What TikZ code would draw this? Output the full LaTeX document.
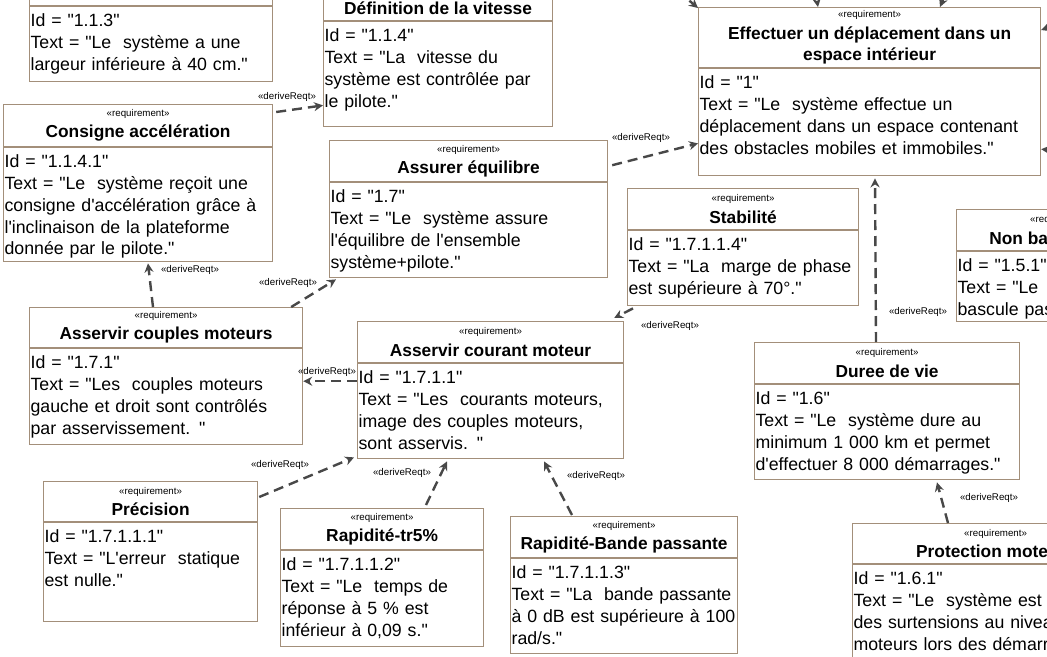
\documentclass[tikz,border=0pt]{standalone}
\usepackage{fontspec}
\setmainfont{Liberation Sans}[Ligatures=TeXOff]
\usepackage{xcolor}
\usepackage{tikz}
\usetikzlibrary{positioning, arrows.meta, calc}
\newdimen\px \px=0.75pt
\definecolor{reqline}{RGB}{163,143,122}
\definecolor{deriveline}{RGB}{72,72,72}
\newcommand\stereo{{\fontsize{7.3}{9}\selectfont\mdseries «requirement»}}

\begin{document}
\begin{tikzpicture}[
  x=0.75pt, y=-0.75pt,
  reqhead/.style={draw=reqline, line width=0.9pt, fill=white, anchor=north west,
                  align=center, inner sep=0pt,
                  font=\fontsize{13}{16}\selectfont\bfseries},
  reqbody/.style={draw=reqline, line width=0.9pt, fill=white, anchor=north west,
                  align=left, inner xsep=0.75pt, inner ysep=2.25pt, text height=12.75pt,
                  font=\fontsize{13.3}{16.3}\selectfont},
  derive/.style={draw=deriveline, line width=1.8pt, dash pattern=on 7.5pt off 4.5pt,
                 -{Stealth[length=6.75pt, width=6.75pt, inset=2.25pt]}},
  lbl/.style={font=\fontsize{7.3}{9}\selectfont, inner sep=0pt}
]
  \useasboundingbox (0,0) rectangle (1047,657);
  \fill[white] (0,0) rectangle (1047,657);
  \clip (0,0) rectangle (1047,657);

  \node[reqhead, minimum width=243\px, minimum height=41\px] (b1h) at (29,-36) {};
  \node[reqbody, text width=241\px, text depth=52\px, below=0pt of b1h.south west, anchor=north west] (b1)
    {Id = "1.1.3"\\Text = "Le\ \ système a une\\largeur inférieure à 40 cm."};

  \node[reqhead, minimum width=229\px, minimum height=41\px] (b2h) at (323,-21)
    {\stereo\\Définition de la vitesse};
  \node[reqbody, text width=227\px, text depth=82\px, below=0pt of b2h.south west, anchor=north west] (b2)
    {Id = "1.1.4"\\Text = "La\ \ vitesse du\\système est contrôlée par\\le pilote."};

  \node[reqhead, minimum width=269\px, minimum height=42\px] (b3h) at (3,104)
    {\stereo\\Consigne accélération};
  \node[reqbody, text width=267\px, text depth=91\px, below=0pt of b3h.south west, anchor=north west] (b3)
    {Id = "1.1.4.1"\\Text = "Le\ \ système reçoit une\\consigne d'accélération grâce à\\l'inclinaison de la plateforme\\donnée par le pilote."};

  \node[reqhead, minimum width=278\px, minimum height=41\px] (b4h) at (329,140)
    {\stereo\\Assurer équilibre};
  \node[reqbody, text width=276\px, text depth=72\px, below=0pt of b4h.south west, anchor=north west] (b4)
    {Id = "1.7"\\Text = "Le\ \ système assure\\l'équilibre de l'ensemble\\système+pilote."};

  \node[reqhead, minimum width=342\px, minimum height=60\px] (b5h) at (698,7)
    {\stereo\\Effectuer un déplacement dans un\\espace intérieur};
  \node[reqbody, text width=340\px, text depth=84\px, below=0pt of b5h.south west, anchor=north west] (b5)
    {Id = "1"\\Text = "Le\ \ système effectue un\\déplacement dans un espace contenant\\des obstacles mobiles et immobiles."};

  \node[reqhead, minimum width=231\px, minimum height=41\px] (b6h) at (627,188)
    {\stereo\\Stabilité};
  \node[reqbody, text width=229\px, text depth=52\px, below=0pt of b6h.south west, anchor=north west] (b6)
    {Id = "1.7.1.1.4"\\Text = "La\ \ marge de phase\\est supérieure à 70°."};

  \node[reqhead, minimum width=210\px, minimum height=41\px] (b7h) at (956,209)
    {\stereo\\Non basculement};
  \node[reqbody, text width=208\px, text depth=47\px, below=0pt of b7h.south west, anchor=north west] (b7)
    {Id = "1.5.1"\\Text = "Le\ \ système ne\\bascule pas."};

  \node[reqhead, minimum width=273\px, minimum height=40\px] (b8h) at (29,307)
    {\stereo\\Asservir couples moteurs};
  \node[reqbody, text width=271\px, text depth=73\px, below=0pt of b8h.south west, anchor=north west] (b8)
    {Id = "1.7.1"\\Text = "Les\ \ couples moteurs\\gauche et droit sont contrôlés\\par asservissement. "};

  \node[reqhead, minimum width=266\px, minimum height=41\px] (b9h) at (357,321)
    {\stereo\\Asservir courant moteur};
  \node[reqbody, text width=264\px, text depth=72\px, below=0pt of b9h.south west, anchor=north west] (b9)
    {Id = "1.7.1.1"\\Text = "Les\ \ courants moteurs,\\image des couples moteurs,\\sont asservis. "};

  \node[reqhead, minimum width=214\px, minimum height=40\px] (b10h) at (43,481)
    {\stereo\\Précision};
  \node[reqbody, text width=212\px, text depth=76\px, below=0pt of b10h.south west, anchor=north west] (b10)
    {Id = "1.7.1.1.1"\\Text = "L'erreur\ \ statique\\est nulle."};

  \node[reqhead, minimum width=203\px, minimum height=41\px] (b11h) at (280,508)
    {\stereo\\Rapidité-tr5\%};
  \node[reqbody, text width=201\px, text depth=73\px, below=0pt of b11h.south west, anchor=north west] (b11)
    {Id = "1.7.1.1.2"\\Text = "Le\ \ temps de\\réponse à 5 \% est\\inférieur à 0,09 s."};

  \node[reqhead, minimum width=227\px, minimum height=41\px] (b12h) at (510,516)
    {\stereo\\Rapidité-Bande passante};
  \node[reqbody, text width=225\px, text depth=72\px, below=0pt of b12h.south west, anchor=north west] (b12)
    {Id = "1.7.1.1.3"\\Text = "La\ \ bande passante\\à 0 dB est supérieure à 100\\rad/s."};

  \node[reqhead, minimum width=265\px, minimum height=41\px] (b13h) at (754,342)
    {\stereo\\Duree de vie};
  \node[reqbody, text width=263\px, text depth=72\px, below=0pt of b13h.south west, anchor=north west] (b13)
    {Id = "1.6"\\Text = "Le\ \ système dure au\\minimum 1 000 km et permet\\d'effectuer 8 000 démarrages."};

  \node[reqhead, minimum width=286\px, minimum height=40\px] (b14h) at (852,523)
    {\stereo\\Protection moteurs};
  \node[reqbody, text width=284\px, text depth=97\px, below=0pt of b14h.south west, anchor=north west] (b14)
    {Id = "1.6.1"\\Text = "Le\ \ système est protégé\\des surtensions au niveau des\\moteurs lors des démarrages."};

  \coordinate (in1) at (665,-20);
  \coordinate (in2) at (812,-30);
  \coordinate (in3) at (955,-30);
  \coordinate (in4) at (1075,18);
  \coordinate (in5) at (1075,152);

  \draw[derive] ($(b3h.north east)+(3,8)$) -- ($(b2.south west)+(0,-22)$);
  \draw[derive] ($(b8h.north west)+(124,0)$) -- ($(b3.south west)+(145,1)$);
  \draw[derive] ($(b8h.north east)+(-12,0)$) -- ($(b4.south west)+(7,1)$);
  \draw[derive] ($(b4.north east)+(4,-17)$) -- ($(b5.south west)+(0,-33)$);
  \draw[derive] ($(b6.south west)+(6,2)$) -- ($(b9h.north east)+(-10,-3)$);
  \draw[derive] ($(b9.north west)+(0,18)$) -- ($(b8.north east)+(0,33)$);
  \draw[derive] ($(b10h.north east)+(1,16)$) -- ($(b9.south west)+(-3,-2)$);
  \draw[derive] ($(b11h.north west)+(146,-3)$) -- ($(b9.south west)+(90,2)$);
  \draw[derive] ($(b12h.north west)+(62,-1)$) -- ($(b9.south west)+(187,2)$);
  \draw[derive] ($(b13h.north west)+(122,0)$) -- ($(b5.south west)+(177,2)$);
  \draw[derive] ($(b14h.north west)+(96,0)$) -- ($(b13.south west)+(183,2)$);
  \draw[derive] (in1) -- ($(b5h.north west)+(0,1)$);
  \draw[derive] (in2) -- ($(b5h.north west)+(120,0)$);
  \draw[derive] (in3) -- ($(b5h.north west)+(242,0)$);
  \draw[derive] (in4) -- ($(b5h.north east)+(0,23)$);
  \draw[derive] (in5) -- ($(b5.north east)+(0,81)$);

  \node[lbl] (lab1) at (287,97) {«deriveReqt»};
  \node[lbl] (lab2) at (190,270) {«deriveReqt»};
  \node[lbl] (lab3) at (288,283) {«deriveReqt»};
  \node[lbl] (lab4) at (641,138) {«deriveReqt»};
  \node[lbl] (lab5) at (670,326) {«deriveReqt»};
  \node[lbl] (lab6) at (327,372) {«deriveReqt»};
  \node[lbl] (lab7) at (280,465) {«deriveReqt»};
  \node[lbl] (lab8) at (402,473) {«deriveReqt»};
  \node[lbl] (lab9) at (596,476) {«deriveReqt»};
  \node[lbl] (lab10) at (918,312) {«deriveReqt»};
  \node[lbl] (lab11) at (989,498) {«deriveReqt»};
\end{tikzpicture}
\end{document}
